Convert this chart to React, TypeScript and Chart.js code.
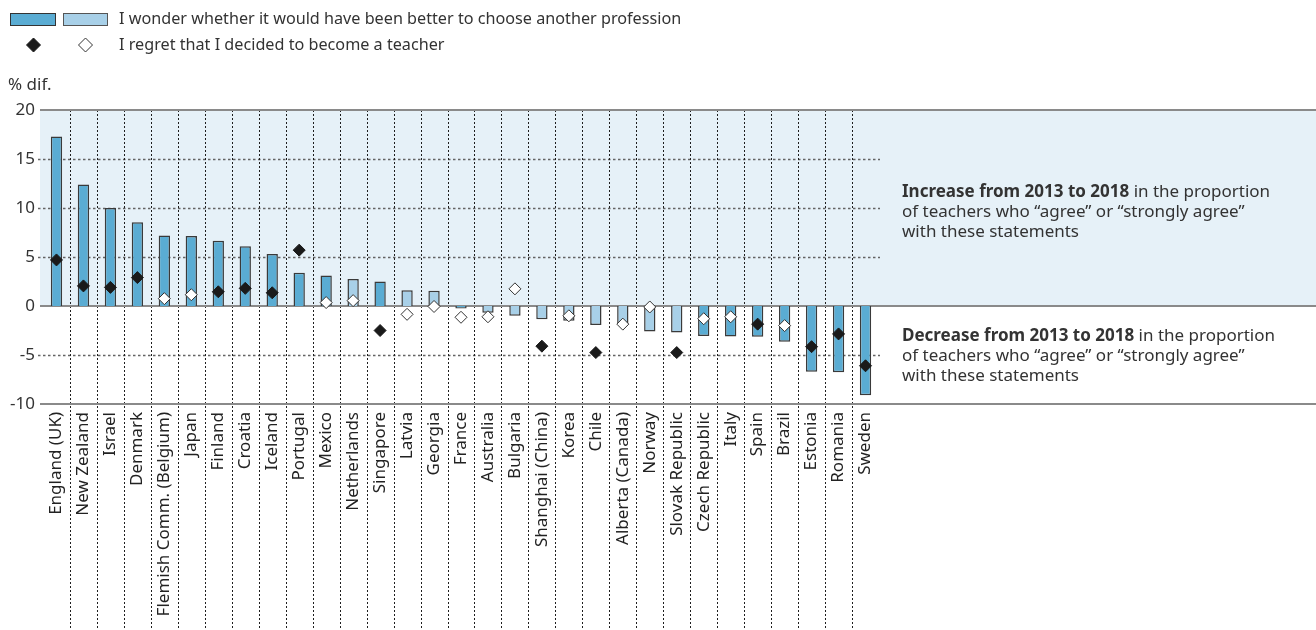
import React, { useEffect, useRef } from "react";
import { Chart, registerables } from "chart.js";

Chart.register(...registerables);

// ---------- data ----------
const categories = [
  "England (UK)", "New Zealand", "Israel", "Denmark", "Flemish Comm. (Belgium)",
  "Japan", "Finland", "Croatia", "Iceland", "Portugal", "Mexico", "Netherlands",
  "Singapore", "Latvia", "Georgia", "France", "Australia", "Bulgaria",
  "Shanghai (China)", "Korea", "Chile", "Alberta (Canada)", "Norway",
  "Slovak Republic", "Czech Republic", "Italy", "Spain", "Brazil", "Estonia",
  "Romania", "Sweden",
];

// "I wonder whether it would have been better to choose another profession"
const wonderValues = [
  17.3, 12.4, 10.0, 8.55, 7.2, 7.15, 6.65, 6.1, 5.3, 3.4, 3.1, 2.75, 2.5, 1.6,
  1.55, -0.25, -0.7, -1.0, -1.35, -1.5, -1.95, -1.8, -2.6, -2.7, -3.05, -3.1,
  -3.15, -3.65, -6.7, -6.75, -9.1,
];
const wonderSignificant = [
  true, true, true, true, true, true, true, true, true, true, true, false, true,
  false, false, true, false, false, false, false, false, false, false, false,
  true, true, true, true, true, true, true,
];

// "I regret that I decided to become a teacher"
const regretValues = [
  4.7, 2.05, 1.9, 2.9, 0.75, 1.15, 1.45, 1.8, 1.35, 5.7, 0.35, 0.55, -2.5, -0.85,
  -0.05, -1.15, -1.1, 1.75, -4.1, -1.0, -4.75, -1.85, -0.1, -4.75, -1.3, -1.1,
  -1.85, -2.0, -4.15, -2.85, -6.1,
];
const regretSignificant = [
  true, true, true, true, false, false, true, true, true, true, false, false,
  true, false, false, false, false, false, true, false, true, false, false, true,
  false, false, true, false, true, true, true,
];

const yMin = -10;
const yMax = 20;
const yStep = 5;
const gridValues = [15, 10, 5, -5];
const solidValues = [20, 0, -10];

const legendWonder = "I wonder whether it would have been better to choose another profession";
const legendRegret = "I regret that I decided to become a teacher";
const yAxisTitle = "% dif.";
const increaseNote: [string, string][] = [
  ["Increase from 2013 to 2018", " in the proportion"],
  ["", "of teachers who \u201Cagree\u201D or \u201Cstrongly agree\u201D"],
  ["", "with these statements"],
];
const decreaseNote: [string, string][] = [
  ["Decrease from 2013 to 2018", " in the proportion"],
  ["", "of teachers who \u201Cagree\u201D or \u201Cstrongly agree\u201D"],
  ["", "with these statements"],
];

// ---------- styles ----------
const FONT = "'Noto Sans', sans-serif";
const DARK = "#5aacd3";
const LIGHT = "#a8d0e8";
const BAR_BORDER = "#3a3a3a";
const BG = "#e6f1f8";
const TEXT = "#333333";

function diamond(ctx: CanvasRenderingContext2D, cx: number, cy: number, r: number, fill: string, stroke: string) {
  ctx.beginPath();
  ctx.moveTo(cx, cy - r);
  ctx.lineTo(cx + r, cy);
  ctx.lineTo(cx, cy + r);
  ctx.lineTo(cx - r, cy);
  ctx.closePath();
  ctx.fillStyle = fill;
  ctx.fill();
  ctx.lineWidth = 1;
  ctx.strokeStyle = stroke;
  ctx.stroke();
}

function drawNote(ctx: CanvasRenderingContext2D, lines: [string, string][], x: number, y0: number, lh: number) {
  lines.forEach(([bold, reg], i) => {
    const yy = y0 + i * lh;
    let xx = x;
    ctx.fillStyle = TEXT;
    ctx.textBaseline = "middle";
    ctx.textAlign = "left";
    if (bold) {
      ctx.font = `bold 17px ${FONT}`;
      ctx.fillText(bold, xx, yy);
      xx += ctx.measureText(bold).width;
    }
    ctx.font = `17px ${FONT}`;
    ctx.fillText(reg, xx, yy);
  });
}

const decorPlugin = {
  id: "decor",
  beforeDraw(chart: any) {
    const { ctx, chartArea, scales, width, height } = chart;
    const x = scales.x;
    const y = scales.y;
    ctx.save();
    const left = chartArea.left - 3;
    const yTop = y.getPixelForValue(yMax);
    const yZero = y.getPixelForValue(0);

    // shaded "increase" zone
    ctx.fillStyle = BG;
    ctx.fillRect(left, yTop, width - left, yZero - yTop);

    // horizontal dotted grid
    ctx.setLineDash([2.5, 2.5]);
    ctx.lineWidth = 1.4;
    ctx.strokeStyle = "#646464";
    gridValues.forEach((v) => {
      const py = Math.round(y.getPixelForValue(v)) + 0.5;
      ctx.beginPath();
      ctx.moveTo(chartArea.left - 5, py);
      ctx.lineTo(chartArea.right + 1, py);
      ctx.stroke();
    });

    // vertical dividers between categories
    ctx.setLineDash([2, 2]);
    ctx.lineWidth = 1;
    ctx.strokeStyle = "#1e1e1e";
    for (let i = 0; i < categories.length - 1; i++) {
      const px = Math.round((x.getPixelForValue(i) + x.getPixelForValue(i + 1)) / 2) + 0.5;
      ctx.beginPath();
      ctx.moveTo(px, yTop);
      ctx.lineTo(px, height);
      ctx.stroke();
    }

    // solid reference lines
    ctx.setLineDash([]);
    ctx.lineWidth = 2;
    ctx.strokeStyle = "#8a8a8a";
    solidValues.forEach((v) => {
      const py = Math.round(y.getPixelForValue(v));
      ctx.beginPath();
      ctx.moveTo(left, py);
      ctx.lineTo(width, py);
      ctx.stroke();
    });

    // legend
    ctx.lineWidth = 1;
    ctx.fillStyle = DARK;
    ctx.fillRect(10, 13, 46, 13);
    ctx.strokeStyle = "#333";
    ctx.strokeRect(10.5, 13.5, 45, 12);
    ctx.fillStyle = LIGHT;
    ctx.fillRect(63, 13, 45, 13);
    ctx.strokeStyle = "#555";
    ctx.strokeRect(63.5, 13.5, 44, 12);
    diamond(ctx, 33.5, 45, 7, "#1a1a1a", "#1a1a1a");
    diamond(ctx, 85.5, 45, 7, "#ffffff", "#333");
    ctx.fillStyle = TEXT;
    ctx.font = `16.2px ${FONT}`;
    ctx.textBaseline = "middle";
    ctx.textAlign = "left";
    ctx.fillText(legendWonder, 119, 19);
    ctx.fillText(legendRegret, 119, 45);

    // y axis title
    ctx.font = `17px ${FONT}`;
    ctx.fillText(yAxisTitle, 8, 85);

    // notes
    const noteX = chartArea.right + 23;
    drawNote(ctx, increaseNote, noteX, y.getPixelForValue(10) - 16, 20);
    drawNote(ctx, decreaseNote, noteX, y.getPixelForValue(-5) - 19, 20);

    ctx.restore();
  },
};

export default function App() {
  const ref = useRef<HTMLCanvasElement | null>(null);

  useEffect(() => {
    if (!ref.current) return;
    const chart = new Chart(ref.current, {
      type: "bar",
      data: {
        labels: categories,
        datasets: [
          {
            type: "line",
            label: legendRegret,
            data: regretValues,
            showLine: false,
            pointStyle: "rectRot",
            pointRadius: 6,
            pointHoverRadius: 6,
            pointBackgroundColor: regretSignificant.map((s) => (s ? "#1a1a1a" : "#ffffff")),
            pointBorderColor: regretSignificant.map((s) => (s ? "#1a1a1a" : "#333333")),
            pointBorderWidth: 1,
            order: 0,
          } as any,
          {
            type: "bar",
            label: legendWonder,
            data: wonderValues,
            backgroundColor: wonderSignificant.map((s) => (s ? DARK : LIGHT)),
            borderColor: BAR_BORDER,
            borderWidth: 1.5,
            barPercentage: 0.42,
            categoryPercentage: 1,
            order: 1,
          },
        ],
      },
      options: {
        animation: false,
        responsive: true,
        maintainAspectRatio: false,
        layout: { padding: { top: 110, right: 437, left: 0, bottom: 0 } },
        plugins: {
          legend: { display: false },
          tooltip: { enabled: false },
        },
        scales: {
          x: {
            grid: { display: false, drawTicks: false },
            border: { display: false },
            ticks: {
              autoSkip: false,
              minRotation: 90,
              maxRotation: 90,
              padding: 8,
              color: "#222",
              font: { family: FONT, size: 17 },
            },
            afterFit: (s: any) => {
              s.height = 226;
            },
          },
          y: {
            min: yMin,
            max: yMax,
            grid: { display: false, drawTicks: false },
            border: { display: false },
            ticks: {
              stepSize: yStep,
              padding: 8,
              color: TEXT,
              font: { family: FONT, size: 17 },
            },
            afterFit: (s: any) => {
              s.width = 43;
            },
          },
        },
      },
      plugins: [decorPlugin],
    });
    return () => chart.destroy();
  }, []);

  return (
    <div style={{ position: "fixed", left: 0, top: 0, width: 1316, height: 630, background: "#fff" }}>
      <canvas ref={ref} />
    </div>
  );
}
